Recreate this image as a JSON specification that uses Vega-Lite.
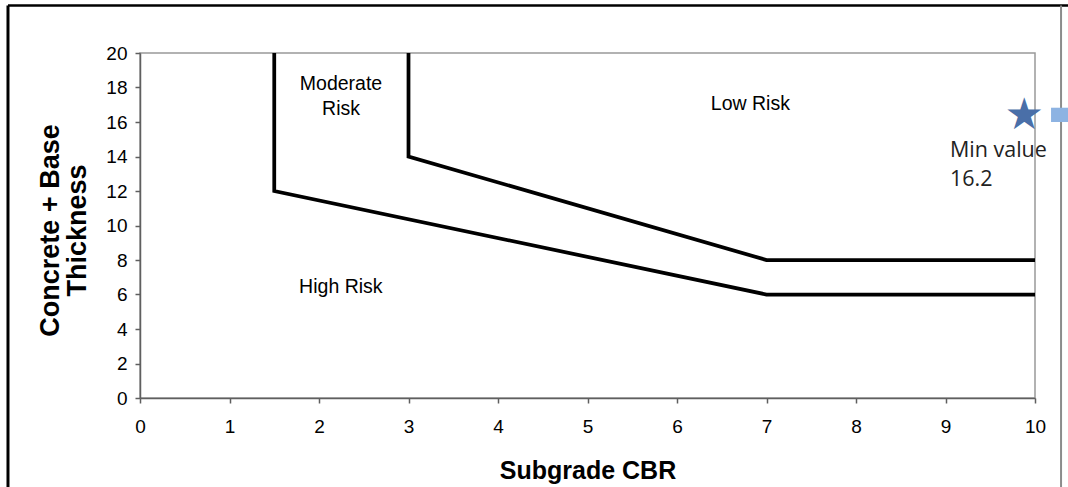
{
  "$schema": "https://vega.github.io/schema/vega-lite/v6.json",
  "width": 895,
  "height": 345,
  "autosize": {"type": "none"},
  "padding": {"left": 140, "top": 53, "right": 33, "bottom": 89},
  "background": "white",
  "config": {"view": {"stroke": "#999999", "strokeWidth": 1.5}, "font": "Liberation Sans"},
  "datasets": {
    "boundaries": [
      {"series": "high-moderate", "seq": 1, "cbr": 1.5, "thickness": 20},
      {"series": "high-moderate", "seq": 2, "cbr": 1.5, "thickness": 12},
      {"series": "high-moderate", "seq": 3, "cbr": 7, "thickness": 6},
      {"series": "high-moderate", "seq": 4, "cbr": 10, "thickness": 6},
      {"series": "moderate-low", "seq": 1, "cbr": 3, "thickness": 20},
      {"series": "moderate-low", "seq": 2, "cbr": 3, "thickness": 14},
      {"series": "moderate-low", "seq": 3, "cbr": 7, "thickness": 8},
      {"series": "moderate-low", "seq": 4, "cbr": 10, "thickness": 8}
    ],
    "zones": [
      {"cbr": 2.246, "thickness": 17.86, "label": "Moderate\nRisk"},
      {"cbr": 6.82, "thickness": 16.7, "label": "Low Risk"},
      {"cbr": 2.244, "thickness": 6.07, "label": "High Risk"}
    ],
    "minpoint": [
      {"cbr": 9.88, "thickness": 16.35, "symbol": "★"}
    ],
    "pointer": [
      {"cbr": 10.14, "thickness": 16.4, "symbol": "➡"}
    ],
    "minlabel": [
      {"cbr": 9.05, "thickness": 13.97, "label": "Min value\n16.2"}
    ]
  },
  "layer": [
    {
      "data": {"name": "boundaries"},
      "mark": {"type": "line", "color": "#000000", "strokeWidth": 3.75, "strokeJoin": "miter"},
      "encoding": {
        "x": {
          "field": "cbr", "type": "quantitative",
          "scale": {"domain": [0, 10], "nice": false, "zero": false},
          "axis": {
            "title": "Subgrade CBR",
            "tickCount": 10,
            "grid": false,
            "domainColor": "#5f5f5f", "domainWidth": 1.5,
            "tickColor": "#5f5f5f", "tickWidth": 1.5, "tickSize": 5,
            "labelFont": "Liberation Sans", "labelFontSize": 19, "labelColor": "#000000",
            "labelPadding": 14, "labelFlush": false,
            "titleFont": "Liberation Sans", "titleFontSize": 25, "titleFontWeight": "bold",
            "titleColor": "#000000", "titleY": 72, "titleBaseline": "middle"
          }
        },
        "y": {
          "field": "thickness", "type": "quantitative",
          "scale": {"domain": [0, 20], "nice": false, "zero": false},
          "axis": {
            "title": ["Concrete + Base", "Thickness"],
            "tickCount": 10,
            "grid": false,
            "domainColor": "#5f5f5f", "domainWidth": 1.5,
            "tickColor": "#5f5f5f", "tickWidth": 1.5, "tickSize": 5,
            "labelFont": "Liberation Sans", "labelFontSize": 19, "labelColor": "#000000",
            "labelPadding": 8,
            "titleFont": "Liberation Sans", "titleFontSize": 27, "titleFontWeight": "bold",
            "titleColor": "#000000", "titleLineHeight": 27,
            "titleX": -90, "titleY": 177, "titleAngle": 270,
            "titleBaseline": "middle", "titleAlign": "center"
          }
        },
        "detail": {"field": "series", "type": "nominal"},
        "order": {"field": "seq", "type": "quantitative"}
      }
    },
    {
      "data": {"values": [{}]},
      "mark": {"type": "rule", "color": "#000000", "strokeWidth": 3},
      "encoding": {
        "x": {"datum": -1.475, "type": "quantitative"},
        "y": {"datum": -6, "type": "quantitative"},
        "y2": {"datum": 22.754}
      }
    },
    {
      "data": {"values": [{}]},
      "mark": {"type": "rule", "color": "#000000", "strokeWidth": 2.5},
      "encoding": {
        "x": {"datum": -1.475, "type": "quantitative"},
        "x2": {"datum": 10.8},
        "y": {"datum": 22.754, "type": "quantitative"}
      }
    },
    {
      "data": {"values": [{}]},
      "mark": {"type": "rule", "color": "#8c8c8c", "strokeWidth": 2},
      "encoding": {
        "x": {"datum": 10.291, "type": "quantitative"},
        "y": {"datum": -6, "type": "quantitative"},
        "y2": {"datum": 22.754}
      }
    },
    {
      "data": {"name": "zones"},
      "mark": {"type": "text", "font": "Liberation Sans", "fontSize": 19.5, "lineBreak": "\n", "lineHeight": 25.5, "align": "center", "baseline": "alphabetic", "color": "#000000"},
      "encoding": {
        "x": {"field": "cbr", "type": "quantitative"},
        "y": {"field": "thickness", "type": "quantitative"},
        "text": {"field": "label"}
      }
    },
    {
      "data": {"name": "minlabel"},
      "mark": {"type": "text", "font": "Open Sans", "fontSize": 21.5, "lineBreak": "\n", "lineHeight": 29, "align": "left", "baseline": "alphabetic", "color": "#222222"},
      "encoding": {
        "x": {"field": "cbr", "type": "quantitative"},
        "y": {"field": "thickness", "type": "quantitative"},
        "text": {"field": "label"}
      }
    },
    {
      "data": {"name": "minpoint"},
      "mark": {"type": "text", "font": "DejaVu Sans", "fontSize": 44, "align": "center", "baseline": "middle", "color": "#4a6fa8"},
      "encoding": {
        "x": {"field": "cbr", "type": "quantitative"},
        "y": {"field": "thickness", "type": "quantitative"},
        "text": {"field": "symbol"}
      }
    },
    {
      "data": {"name": "pointer"},
      "mark": {"type": "text", "font": "DejaVu Sans", "fontSize": 62, "align": "left", "baseline": "middle", "color": "#8db3e2"},
      "encoding": {
        "x": {"field": "cbr", "type": "quantitative"},
        "y": {"field": "thickness", "type": "quantitative"},
        "text": {"field": "symbol"}
      }
    }
  ]
}
